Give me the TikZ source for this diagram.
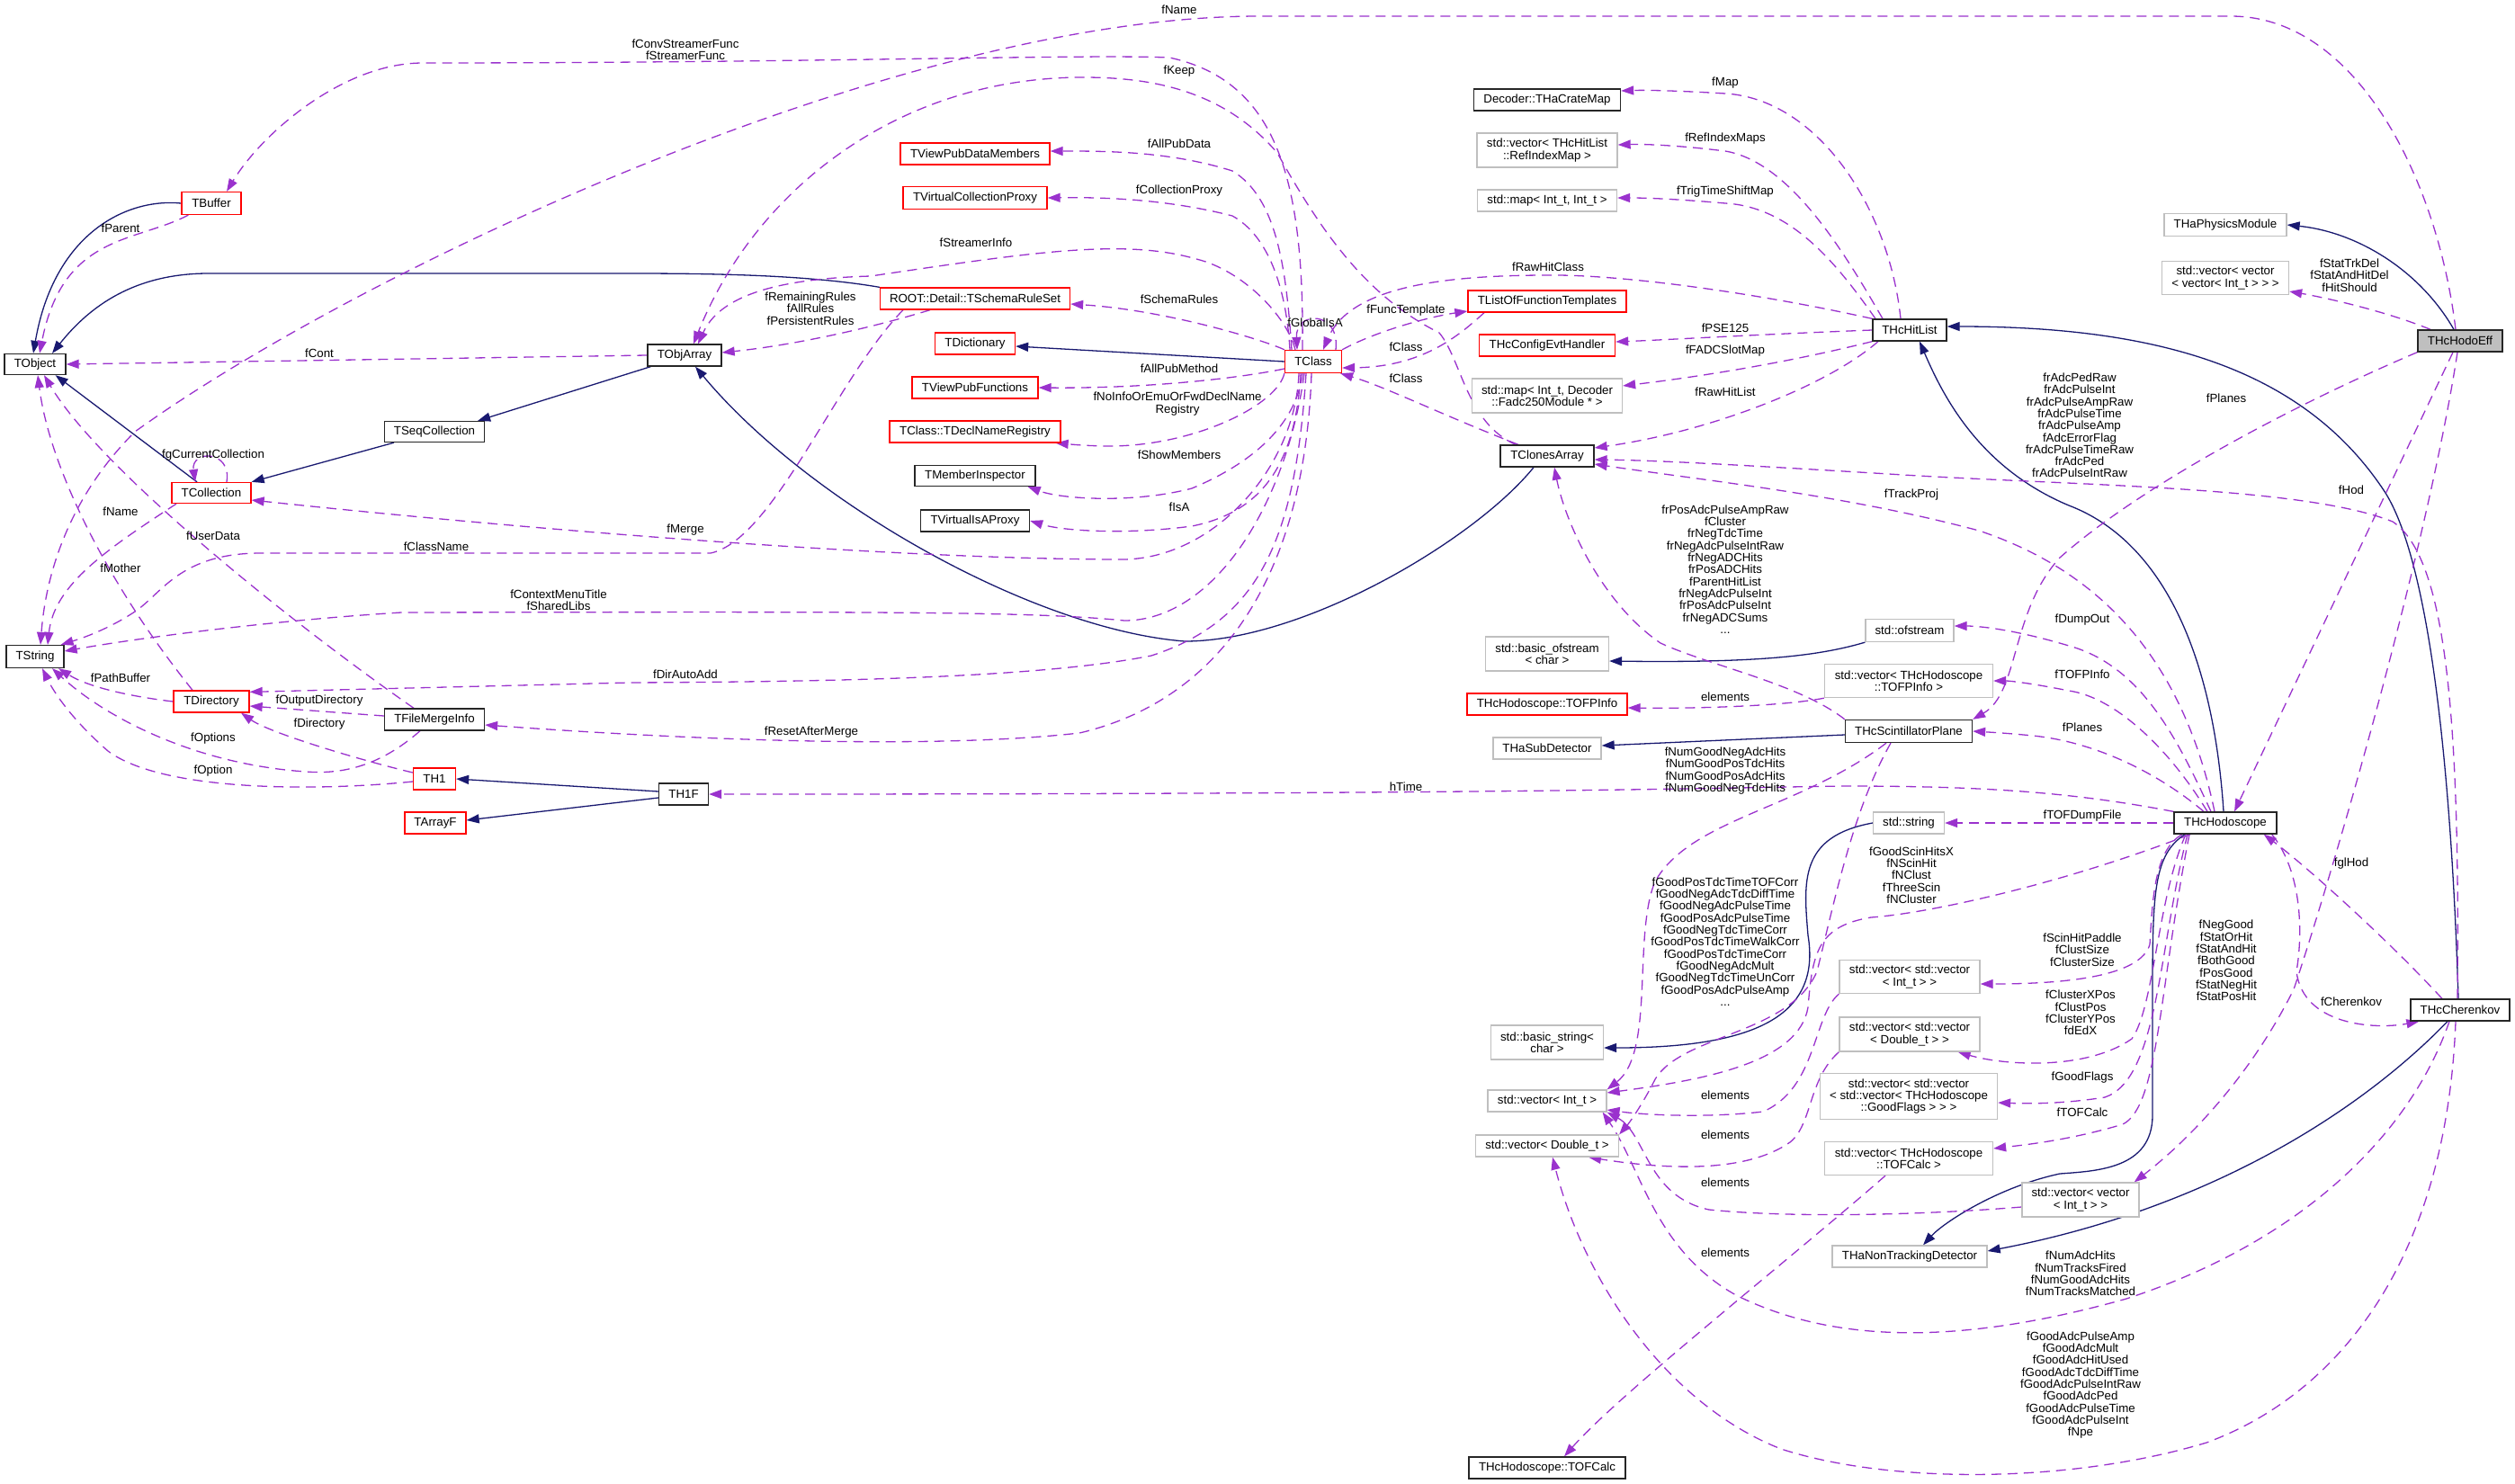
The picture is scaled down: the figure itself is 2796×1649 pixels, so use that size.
\documentclass[tikz,border=0pt]{standalone}
\usepackage{fontspec}
\setmainfont{Liberation Sans}
\usepackage{tikz}
\usetikzlibrary{arrows.meta, backgrounds}
\definecolor{dxnavy}{HTML}{191970}
\definecolor{dxpurple}{HTML}{9A32CD}
\definecolor{dxred}{HTML}{FF0000}
\definecolor{dxgray}{HTML}{BFBFBF}
\newcommand{\dox}{\fontsize{13.3}{13.3}\selectfont}

\begin{document}
\begin{tikzpicture}[x=1pt, y=-1pt,
  klass/.style={draw=black!85, line width=1.3pt, fill=white, inner sep=0pt, align=center, font=\dox},
  trunc/.style={klass, draw=dxred},
  ext/.style={klass, draw=dxgray},
  sz/.style 2 args={minimum width=#1, minimum height=#2},
  memb/.style={draw=dxpurple, line width=1.3pt, dash pattern=on 11pt off 7pt, -{Triangle[length=14pt,width=10pt]}},
  inher/.style={draw=dxnavy, line width=1.3pt, -{Triangle[length=14pt,width=10pt]}},
  lbl/.style={font=\dox, align=center, inner sep=0pt}
]
\useasboundingbox (0,0) rectangle (2796,1649);

% classes
\node[klass, sz={68}{23}] (obj) at (39,405) {TObject};
\node[trunc, sz={66}{25}] (buf) at (235,226) {TBuffer};
\node[klass, sz={111}{23}] (seqcoll) at (483,480) {TSeqCollection};
\node[trunc, sz={88}{23}] (coll) at (235,548) {TCollection};
\node[klass, sz={64}{25}] (str) at (39,730) {TString};
\node[trunc, sz={84}{24}] (dir) at (235,780) {TDirectory};
\node[klass, sz={111}{24}] (fmi) at (483,800) {TFileMergeInfo};
\node[trunc, sz={47}{24}] (th1) at (483,866) {TH1};
\node[trunc, sz={68}{24}] (arrf) at (484,915) {TArrayF};
\node[klass, sz={82}{24}] (objarr) at (761,395) {TObjArray};
\node[klass, sz={55}{24}] (th1f) at (760,883) {TH1F};
\node[trunc, sz={166}{24}] (vpdm) at (1084,171) {TViewPubDataMembers};
\node[trunc, sz={160}{25}] (vcp) at (1084,220) {TVirtualCollectionProxy};
\node[trunc, sz={211}{24}] (srs) at (1084,332) {ROOT::Detail::TSchemaRuleSet};
\node[trunc, sz={89}{24}] (dict) at (1084,382) {TDictionary};
\node[trunc, sz={140}{24}] (vpf) at (1084,431) {TViewPubFunctions};
\node[trunc, sz={190}{24}] (dnr) at (1084,480) {TClass::TDeclNameRegistry};
\node[klass, sz={134}{23}] (mi) at (1084,529) {TMemberInspector};
\node[klass, sz={121}{24}] (viap) at (1084,579) {TVirtualIsAProxy};
\node[trunc, sz={63}{25}] (cls) at (1460,402) {TClass};
\node[klass, sz={163}{24}] (cmap) at (1720,111) {Decoder::THaCrateMap};
\node[ext, sz={156}{38}] (vrim) at (1720,167) {std::vector< THcHitList\\::RefIndexMap >};
\node[ext, sz={155}{24}] (mapii) at (1720,223) {std::map< Int\_t, Int\_t >};
\node[trunc, sz={176}{24}] (lft) at (1720,335) {TListOfFunctionTemplates};
\node[trunc, sz={151}{24}] (ceh) at (1720,384) {THcConfigEvtHandler};
\node[ext, sz={167}{38}] (mapfadc) at (1720,440) {std::map< Int\_t, Decoder\\::Fadc250Module * >};
\node[klass, sz={104}{24}] (clones) at (1720,507) {TClonesArray};
\node[ext, sz={137}{38}] (bofs) at (1720,727) {std::basic\_ofstream\\< char >};
\node[trunc, sz={178}{24}] (tofpinfo) at (1720,783) {THcHodoscope::TOFPInfo};
\node[ext, sz={120}{24}] (subdet) at (1720,832) {THaSubDetector};
\node[ext, sz={125}{38}] (bstr) at (1720,1159) {std::basic\_string<\\char >};
\node[ext, sz={132}{24}] (vint) at (1720,1224) {std::vector< Int\_t >};
\node[ext, sz={159}{24}] (vdbl) at (1720,1274) {std::vector< Double\_t >};
\node[klass, sz={174}{24}] (tofcalc) at (1720,1632) {THcHodoscope::TOFCalc};
\node[klass, sz={82}{24}] (hitlist) at (2123,367) {THcHitList};
\node[ext, sz={98}{25}] (ofs) at (2123,701) {std::ofstream};
\node[ext, sz={187}{37}] (vtofp) at (2122,757) {std::vector< THcHodoscope\\::TOFPInfo >};
\node[klass, sz={141}{25}] (plane) at (2122,813) {THcScintillatorPlane};
\node[ext, sz={79}{24}] (sstr) at (2122,915) {std::string};
\node[ext, sz={156}{37}] (vvint) at (2123,1086) {std::vector< std::vector\\< Int\_t > >};
\node[ext, sz={156}{38}] (vvdbl) at (2123,1150) {std::vector< std::vector\\< Double\_t > >};
\node[ext, sz={197}{51}] (vgf) at (2122,1219) {std::vector< std::vector\\< std::vector< THcHodoscope\\::GoodFlags > > >};
\node[ext, sz={187}{37}] (vtofc) at (2122,1288) {std::vector< THcHodoscope\\::TOFCalc >};
\node[ext, sz={172}{24}] (nontrk) at (2123,1397) {THaNonTrackingDetector};
\node[ext, sz={136}{25}] (physmod) at (2474,250) {THaPhysicsModule};
\node[ext, sz={141}{37}] (vvvint) at (2474,309) {std::vector< vector\\< vector< Int\_t > > >};
\node[klass, sz={114}{24}] (hodo) at (2474,915) {THcHodoscope};
\node[ext, sz={130}{38}] (vvi) at (2313,1334) {std::vector< vector\\< Int\_t > >};
\node[klass, fill=dxgray, sz={94}{24}] (hodoeff) at (2735,379) {THcHodoEff};
\node[klass, sz={110}{24}] (cher) at (2735,1123) {THcCherenkov};

\begin{scope}[on background layer]
% inheritance
\draw[inher] (buf.west) .. controls (140,220) and (60,260) .. ([xshift=-2]obj.north);
\draw[inher] (srs.north west) .. controls (900,306) and (800,304) .. (700,304) -- (232,304) .. controls (150,304) and (100,340) .. ([xshift=19]obj.north);
\draw[inher] ([xshift=-16]coll.north) -- ([xshift=-12]obj.south east);
\draw[inher] ([xshift=-45]seqcoll.south) -- (coll.north east);
\draw[inher] ([xshift=4]objarr.south west) -- ([xshift=-8]seqcoll.north east);
\draw[inher] (cls.west) -- ([yshift=-3]dict.east);
\draw[inher] ([xshift=-15]clones.south) .. controls (1640,600) and (1450,713) .. (1317,713) .. controls (1150,700) and (900,560) .. ([xshift=12]objarr.south);
\draw[inher] ([yshift=3]th1f.west) -- (th1.east);
\draw[inher] ([yshift=-4]th1f.west) -- ([yshift=3]arrf.east);
\draw[inher] ([xshift=-7]hodoeff.north) .. controls (2690,300) and (2620,258) .. (physmod.east);
\draw[inher] ([xshift=-2]cher.north) .. controls (2725,850) and (2700,620) .. (2650,545) .. controls (2560,410) and (2400,363) .. ([yshift=4]hitlist.east);
\draw[inher] ([xshift=-2]hodo.north) .. controls (2460,720) and (2400,600) .. (2300,562) .. controls (2200,520) and (2160,440) .. ([xshift=11]hitlist.south);
\draw[inher] ([yshift=-4]plane.west) -- ([yshift=3]subdet.east);
\draw[inher] (ofs.south west) .. controls (2020,730) and (1950,737) .. ([yshift=-8]bofs.east);
\draw[inher] (sstr.west) .. controls (2000,930) and (2005,980) .. (2010,1040) .. controls (2025,1130) and (1950,1165) .. ([yshift=-6]bstr.east);
\draw[inher] ([xshift=-45]hodo.south) .. controls (2395,950) and (2393,990) .. (2393,1100) -- (2393,1240) .. controls (2393,1300) and (2330,1302) .. (2290,1305) .. controls (2220,1320) and (2160,1360) .. ([xshift=15]nontrk.north);
\draw[inher] ([xshift=-14]cher.south) .. controls (2620,1240) and (2450,1345) .. ([yshift=6]nontrk.east);

% members of the ROOT classes
\draw[memb] ([xshift=8]buf.south west) .. controls (150,270) and (70,260) .. ([xshift=5]obj.north) node[lbl] (lfParent) at (134,254) {fParent};
\draw[memb] (objarr.west) -- (obj.east) node[lbl] (lfCont) at (355,393) {fCont};
\draw[memb] ([xshift=-21]dir.north) .. controls (120,650) and (55,520) .. ([xshift=3]obj.south) node[lbl] (lfMother) at (134,632) {fMother};
\draw[memb] ([xshift=-23]fmi.north) .. controls (320,690) and (110,520) .. ([xshift=10]obj.south) node[lbl] (lfUserData) at (237,596) {fUserData};
\draw[memb] ([xshift=-5]hodoeff.north) .. controls (2710,200) and (2620,18) .. (2480,18) -- (1400,18) .. controls (1000,18) and (400,300) .. (150,480) .. controls (70,560) and (50,650) .. ([xshift=6]str.north) node[lbl] (lfNameA) at (1311,11) {fName};
\draw[memb] ([xshift=-39]coll.south) .. controls (120,610) and (60,650) .. ([xshift=14]str.north) node[lbl] (lfNameB) at (134,569) {fName};
\draw[memb] ([xshift=-80]srs.south) .. controls (930,420) and (860,600) .. (790,615) -- (290,615) .. controls (200,615) and (180,660) .. (150,680) .. controls (120,700) and (90,710) .. ([xshift=-4]str.north east) node[lbl] (lfClassName) at (485,608) {fClassName};
\draw[memb] ([xshift=-10]cls.south) .. controls (1430,560) and (1350,690) .. (1250,690) .. controls (1150,680) and (1000,680) .. (446,681) .. controls (300,690) and (150,710) .. ([yshift=6]str.east) node[lbl] (lfMenu) at (621,667) {fContextMenuTitle\\fSharedLibs};
\draw[memb] (dir.west) .. controls (150,775) and (100,765) .. ([xshift=26]str.south) node[lbl] (lfPathBuffer) at (134,754) {fPathBuffer};
\draw[memb] ([xshift=-16]fmi.south) .. controls (430,845) and (390,862) .. (340,858) .. controls (220,850) and (120,800) .. ([xshift=19]str.south) node[lbl] (lfOptions) at (237,821) {fOptions};
\draw[memb] ([yshift=-3]th1.west) .. controls (350,880) and (180,880) .. (120,835) .. controls (80,800) and (60,770) .. ([xshift=8]str.south) node[lbl] (lfOption) at (237,857) {fOption};
\draw[memb] ([xshift=-12]cls.north) .. controls (1450,200) and (1420,90) .. (1300,64) .. controls (1200,60) and (900,70) .. (470,70) .. controls (380,70) and (290,150) .. ([xshift=17]buf.north) node[lbl] (lfStreamerFunc) at (762,55) {fConvStreamerFunc\\fStreamerFunc};
\draw[memb] ([xshift=-35]clones.north) .. controls (1630,470) and (1625,400) .. (1600,370) .. controls (1520,330) and (1470,260) .. (1420,170) .. controls (1360,100) and (1280,86) .. (1204,86) .. controls (1000,86) and (840,210) .. ([xshift=10]objarr.north) node[lbl] (lfKeep) at (1311,79) {fKeep};
\draw[memb] ([xshift=-20]cls.north) .. controls (1430,350) and (1380,300) .. (1330,288) .. controls (1250,265) and (1150,280) .. (968,307) .. controls (860,310) and (800,330) .. ([xshift=15]objarr.north) node[lbl] (lfStreamerInfo) at (1085,270) {fStreamerInfo};
\draw[memb] ([xshift=-50]srs.south) .. controls (950,370) and (870,385) .. ([yshift=3]objarr.east) node[lbl] (lfRules) at (901,343) {fRemainingRules\\fAllRules\\fPersistentRules};
\draw[memb] ([xshift=17]coll.north) .. controls (258,500) and (212,500) .. ([xshift=-18]coll.north) node[lbl] (lfgCurrent) at (237,506) {fgCurrentCollection};
\draw[memb] ([xshift=-16]cls.south) .. controls (1440,520) and (1350,620) .. (1250,622) .. controls (1000,622) and (600,590) .. ([yshift=-8]coll.east) node[lbl] (lfMerge) at (762,589) {fMerge};
\draw[memb] ([xshift=-8]cls.south) .. controls (1440,600) and (1400,690) .. (1280,729) .. controls (1150,755) and (900,758) .. (700,759) -- ([yshift=-2]dir.north east) node[lbl] (lfDirAutoAdd) at (762,750) {fDirAutoAdd};
\draw[memb] ([yshift=4]fmi.west) -- ([yshift=-5]dir.east) node[lbl] (lfOutputDirectory) at (355,779) {fOutputDirectory};
\draw[memb] ([yshift=7]th1.west) .. controls (400,845) and (300,815) .. ([xshift=33]dir.south) node[lbl] (lfDirectory) at (355,805) {fDirectory};
\draw[memb] ([xshift=-2]cls.south) .. controls (1450,650) and (1350,780) .. (1200,815) .. controls (1050,832) and (800,825) .. ([yshift=-6]fmi.east) node[lbl] (lfReset) at (902,814) {fResetAfterMerge};
\draw[memb] ([xshift=-24]cls.north) .. controls (1430,300) and (1420,220) .. (1370,190) .. controls (1300,168) and (1230,168) .. ([yshift=3]vpdm.east) node[lbl] (lfAllPubData) at (1311,160) {fAllPubData};
\draw[memb] ([xshift=-26]cls.north) .. controls (1430,320) and (1410,262) .. (1370,240) .. controls (1300,222) and (1230,219) .. (vcp.east) node[lbl] (lfCollectionProxy) at (1311,212) {fCollectionProxy};
\draw[memb] (cls.north west) .. controls (1410,380) and (1300,345) .. ([yshift=-6]srs.east) node[lbl] (lfSchemaRules) at (1311,333) {fSchemaRules};
\draw[memb] ([yshift=-8]cls.west) .. controls (1380,420) and (1280,432) .. (vpf.east) node[lbl] (lfAllPubMethod) at (1311,410) {fAllPubMethod};
\draw[memb] (cls.south west) .. controls (1420,450) and (1330,495) .. (1236,496) .. controls (1210,496) and (1190,494) .. ([xshift=-6]dnr.south east) node[lbl] (lfNoInfo) at (1309,449) {fNoInfoOrEmuOrFwdDeclName\\Registry};
\draw[memb] ([xshift=-12]cls.south) .. controls (1440,480) and (1380,520) .. (1325,543) .. controls (1260,560) and (1180,555) .. ([xshift=-9]mi.south east) node[lbl] (lfShowMembers) at (1311,506) {fShowMembers};
\draw[memb] ([xshift=-14]cls.south) .. controls (1440,520) and (1400,570) .. (1325,585) .. controls (1250,595) and (1180,590) .. (viap.east) node[lbl] (lfIsA) at (1311,564) {fIsA};
\draw[memb] ([xshift=25]cls.north) .. controls (1490,345) and (1440,345) .. ([xshift=-18]cls.north) node[lbl] (lfGlobalIsA) at (1462,359) {fGlobalIsA};
\draw[memb] (cls.north east) .. controls (1530,368) and (1590,352) .. ([yshift=-11]lft.west) node[lbl] (lfFuncTemplate) at (1563,345) {fFuncTemplate};
\draw[memb] ([xshift=-70]lft.south) .. controls (1620,375) and (1580,408) .. ([yshift=-7]cls.east) node[lbl] (lfClassA) at (1563,386) {fClass};
\draw[memb] ([xshift=-32]clones.north) .. controls (1600,460) and (1540,430) .. ([xshift=-2]cls.south east) node[lbl] (lfClassB) at (1563,421) {fClass};

% members of THcHitList
\draw[memb] ([xshift=-10]hitlist.north) .. controls (2100,230) and (2020,110) .. (1918,104) .. controls (1870,101) and (1830,100) .. ([yshift=10]cmap.east) node[lbl] (lfMap) at (1918,92) {fMap};
\draw[memb] ([xshift=-30]hitlist.north) .. controls (2050,280) and (1990,180) .. (1918,168) .. controls (1870,162) and (1830,160) .. ([yshift=6]vrim.east) node[lbl] (lfRefIndexMaps) at (1918,154) {fRefIndexMaps};
\draw[memb] ([xshift=-38]hitlist.north) .. controls (2040,290) and (1990,230) .. (1918,226) .. controls (1860,221) and (1830,220) .. ([yshift=3]mapii.east) node[lbl] (lfTrigTime) at (1918,213) {fTrigTimeShiftMap};
\draw[memb] (hitlist.north west) .. controls (1950,325) and (1800,305) .. (1721,306) .. controls (1600,306) and (1500,320) .. ([xshift=11]cls.north) node[lbl] (lfRawHitClass) at (1721,297) {fRawHitClass};
\draw[memb] (hitlist.west) .. controls (1950,372) and (1850,378) .. ([yshift=4]ceh.east) node[lbl] (lfPSE) at (1918,365) {fPSE125};
\draw[memb] (hitlist.south west) .. controls (1980,405) and (1880,420) .. ([yshift=11]mapfadc.east) node[lbl] (lfFADCSlotMap) at (1918,390) {fFADCSlotMap};
\draw[memb] ([xshift=-35]hitlist.south) .. controls (2030,430) and (1900,480) .. ([yshift=9]clones.east) node[lbl] (lfRawHitList) at (1918,436) {fRawHitList};

% members of the detectors
\draw[memb] ([xshift=-3]cher.north) .. controls (2735,800) and (2720,620) .. (2660,580) .. controls (2560,540) and (2300,540) .. (2100,527) .. controls (1950,518) and (1850,512) .. ([yshift=-4]clones.east) node[lbl] (lfrAdc) at (2312,473) {frAdcPedRaw\\frAdcPulseInt\\frAdcPulseAmpRaw\\frAdcPulseTime\\frAdcPulseAmp\\fAdcErrorFlag\\frAdcPulseTimeRaw\\frAdcPed\\frAdcPulseIntRaw};
\draw[memb] ([xshift=-12]hodo.north) .. controls (2430,750) and (2350,640) .. (2200,590) .. controls (2050,550) and (1900,535) .. ([yshift=-9]clones.east) node[lbl] (lfTrackProj) at (2125,550) {fTrackProj};
\draw[memb] (plane.north west) .. controls (2000,760) and (1900,740) .. (1846,715) .. controls (1780,670) and (1740,580) .. ([xshift=8]clones.south) node[lbl] (lfrPos) at (1918,633) {frPosAdcPulseAmpRaw\\fCluster\\frNegTdcTime\\frNegAdcPulseIntRaw\\frNegADCHits\\frPosADCHits\\fParentHitList\\frNegAdcPulseInt\\frPosAdcPulseInt\\frNegADCSums\\...};
\draw[memb] ([xshift=-16]hodo.north) .. controls (2420,820) and (2380,740) .. (2300,718) .. controls (2240,700) and (2200,696) .. ([yshift=5]ofs.east) node[lbl] (lfDumpOut) at (2315,689) {fDumpOut};
\draw[memb] ([xshift=-20]hodo.north) .. controls (2410,830) and (2350,775) .. (2300,768) .. controls (2260,760) and (2235,757) .. (vtofp.east) node[lbl] (lfTOFPInfo) at (2315,750) {fTOFPInfo};
\draw[memb] ([xshift=-24]hodo.north) .. controls (2400,860) and (2330,825) .. (2260,818) .. controls (2230,815) and (2210,814) .. (plane.east) node[lbl] (lfPlanesA) at (2315,809) {fPlanes};
\draw[memb] (hodo.north west) .. controls (2300,880) and (2200,874) .. (2050,874) .. controls (1900,876) and (1700,883) .. (th1f.east) node[lbl] (lhTime) at (1563,875) {hTime};
\draw[memb] (hodo.west) -- (sstr.east) node[lbl] (lfTOFDumpFile) at (2315,907) {fTOFDumpFile};
\draw[memb] ([xshift=-39]hodo.south) .. controls (2300,980) and (2150,1015) .. (2080,1020) .. controls (2020,1030) and (2015,1060) .. (2010,1120) .. controls (2000,1180) and (1900,1200) .. ([yshift=9]vint.east) node[lbl] (lfGoodScin) at (2125,973) {fGoodScinHitsX\\fNScinHit\\fNClust\\fThreeScin\\fNCluster};
\draw[memb] ([xshift=-48]hodo.south) .. controls (2395,945) and (2393,1000) .. (2390,1050) .. controls (2380,1085) and (2300,1094) .. ([yshift=-8]vvint.east) node[lbl] (lfScinHit) at (2315,1056) {fScinHitPaddle\\fClustSize\\fClusterSize};
\draw[memb] ([xshift=-44]hodo.south) .. controls (2398,1000) and (2395,1120) .. (2370,1155) .. controls (2320,1190) and (2230,1185) .. ([xshift=-25]vvdbl.south east) node[lbl] (lfClusterPos) at (2313,1126) {fClusterXPos\\fClustPos\\fClusterYPos\\fdEdX};
\draw[memb] ([xshift=-42]hodo.south) .. controls (2400,1050) and (2400,1200) .. (2340,1220) .. controls (2290,1228) and (2250,1227) .. ([yshift=-7]vgf.east) node[lbl] (lfGoodFlags) at (2315,1198) {fGoodFlags};
\draw[memb] ([xshift=-40]hodo.south) .. controls (2400,1100) and (2400,1230) .. (2360,1250) .. controls (2300,1268) and (2250,1273) .. ([yshift=11]vtofc.east) node[lbl] (lfTOFCalc) at (2315,1237) {fTOFCalc};
\draw[memb] ([xshift=-6]hodo.south east) .. controls (2560,970) and (2560,1040) .. (2553,1080) .. controls (2560,1140) and (2640,1145) .. ([xshift=10]cher.south west) node[lbl] (lfCherenkov) at (2614,1114) {fCherenkov};
\draw[memb] ([xshift=-20]cher.north) .. controls (2650,1040) and (2560,960) .. ([xshift=-15]hodo.south east) node[lbl] (lfglHod) at (2614,960) {fglHod};
\draw[memb] ([xshift=-33]hodoeff.north) .. controls (2650,345) and (2580,330) .. ([yshift=-15]vvvint.east) node[lbl] (lfStat) at (2612,306) {fStatTrkDel\\fStatAndHitDel\\fHitShould};
\draw[memb] (hodoeff.south west) .. controls (2550,450) and (2380,540) .. (2290,620) .. controls (2235,680) and (2245,770) .. (plane.north east) node[lbl] (lfPlanesB) at (2475,443) {fPlanes};
\draw[memb] ([xshift=-8]hodoeff.south) -- ([xshift=10]hodo.north) node[lbl] (lfHod) at (2614,545) {fHod};
\draw[memb] ([xshift=-3]hodoeff.south) .. controls (2700,600) and (2600,950) .. (2550,1100) .. controls (2500,1200) and (2430,1270) .. ([xshift=-6]vvi.north east) node[lbl] (lfNegGood) at (2475,1068) {fNegGood\\fStatOrHit\\fStatAndHit\\fBothGood\\fPosGood\\fStatNegHit\\fStatPosHit};
\draw[memb] ([xshift=-25]plane.south) .. controls (2000,900) and (1880,910) .. (1840,980) .. controls (1815,1040) and (1840,1170) .. (vint.north east) node[lbl] (lfNumGood) at (1918,857) {fNumGoodNegAdcHits\\fNumGoodPosTdcHits\\fNumGoodPosAdcHits\\fNumGoodNegTdcHits};
\draw[memb] ([xshift=-20]plane.south) .. controls (2060,900) and (2040,1000) .. (2020,1080) .. controls (1990,1150) and (1870,1150) .. (1840,1200) .. controls (1825,1230) and (1810,1250) .. (vdbl.north east) node[lbl] (lfGoodPos) at (1918,1047) {fGoodPosTdcTimeTOFCorr\\fGoodNegAdcTdcDiffTime\\fGoodNegAdcPulseTime\\fGoodPosAdcPulseTime\\fGoodNegTdcTimeCorr\\fGoodPosTdcTimeWalkCorr\\fGoodPosTdcTimeCorr\\fGoodNegAdcMult\\fGoodNegTdcTimeUnCorr\\fGoodPosAdcPulseAmp\\...};
\draw[memb] ([xshift=-12]cher.south) .. controls (2680,1260) and (2560,1380) .. (2364,1444) .. controls (2200,1490) and (2050,1500) .. (1930,1440) .. controls (1840,1390) and (1825,1300) .. ([xshift=-5]vint.south east) node[lbl] (lfNumAdc) at (2313,1416) {fNumAdcHits\\fNumTracksFired\\fNumGoodAdcHits\\fNumTracksMatched};
\draw[memb] ([xshift=-5]cher.south) .. controls (2720,1400) and (2600,1550) .. (2453,1604) .. controls (2300,1650) and (2100,1650) .. (1980,1611) .. controls (1850,1560) and (1760,1420) .. ([xshift=6]vdbl.south) node[lbl] (lfGoodAdc) at (2313,1540) {fGoodAdcPulseAmp\\fGoodAdcMult\\fGoodAdcHitUsed\\fGoodAdcTdcDiffTime\\fGoodAdcPulseIntRaw\\fGoodAdcPed\\fGoodAdcPulseTime\\fGoodAdcPulseInt\\fNpe};

% container elements
\draw[memb] (vtofp.south west) .. controls (1990,784) and (1900,788) .. ([yshift=-4]tofpinfo.east) node[lbl] (lelemA) at (1918,775) {elements};
\draw[memb] (vvint.south west) .. controls (2015,1130) and (2020,1210) .. (1960,1236) .. controls (1900,1243) and (1830,1240) .. ([yshift=-10]vint.east) node[lbl] (lelemB) at (1918,1218) {elements};
\draw[memb] (vvdbl.south west) .. controls (2010,1200) and (2015,1250) .. (1990,1270) .. controls (1940,1305) and (1850,1300) .. ([xshift=46]vdbl.south) node[lbl] (lelemC) at (1918,1262) {elements};
\draw[memb] ([yshift=-8]vvi.west) .. controls (2150,1350) and (2000,1355) .. (1900,1345) .. controls (1830,1330) and (1830,1260) .. (vint.south east) node[lbl] (lelemD) at (1918,1315) {elements};
\draw[memb] ([xshift=-26]vtofc.south) .. controls (1990,1400) and (1800,1550) .. ([xshift=19]tofcalc.north) node[lbl] (lelemE) at (1918,1393) {elements};
\end{scope}
\end{tikzpicture}
\end{document}
